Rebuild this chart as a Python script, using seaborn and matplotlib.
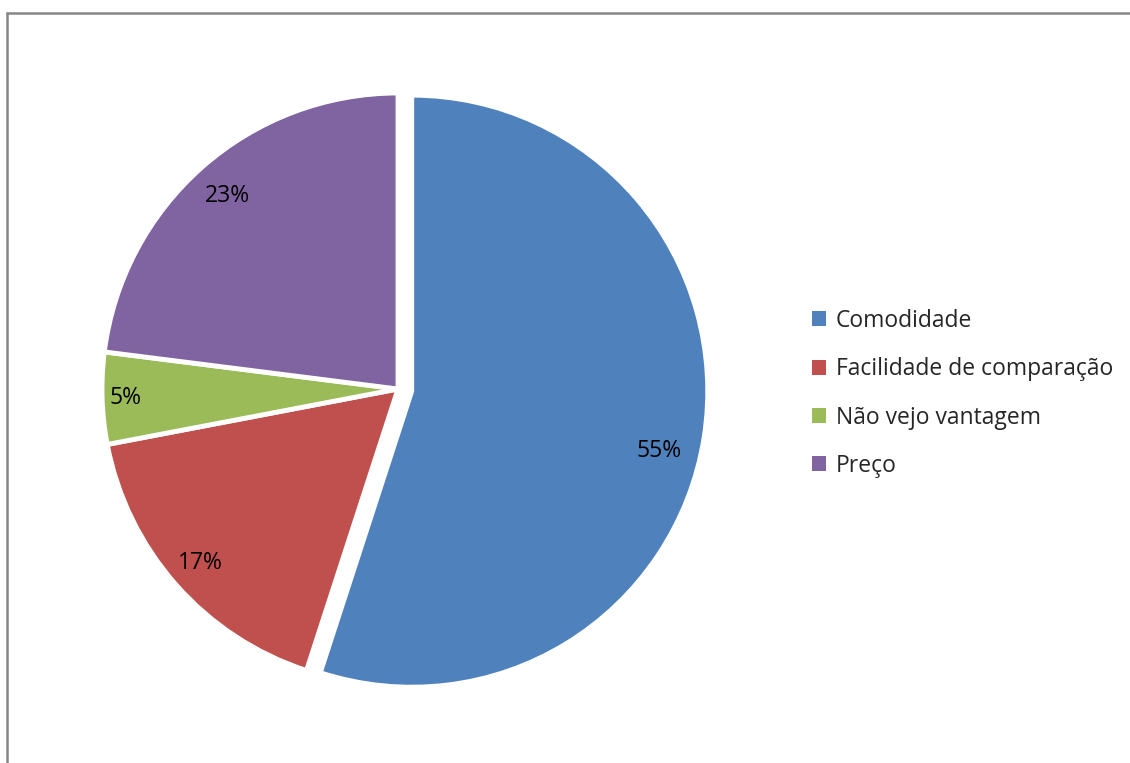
import matplotlib
matplotlib.use("Agg")
import numpy as np
import matplotlib.pyplot as plt
from matplotlib.lines import Line2D
from matplotlib.patches import Patch
import seaborn as sns

# Motivos para usar a comparação de preços online
categories = ["Comodidade", "Facilidade de comparação", "Não vejo vantagem", "Preço"]
shares = [55, 17, 5, 23]
slice_colors = ["#4F81BD", "#C0504D", "#9BBB59", "#8064A2"]

sns.set_theme(style="white")
plt.rcParams["font.family"] = ["Open Sans", "DejaVu Sans"]

W, H = 1130, 763
fig = plt.figure(figsize=(W / 100, H / 100), dpi=100)

# Square axes around the pie centre, radius in pixels
cx, cy, r_px, half = 398, 389, 296, 350
ax = fig.add_axes([(cx - half) / W, (H - cy - half) / H, 2 * half / W, 2 * half / H])
lim = half / r_px

palette = sns.color_palette(slice_colors)
explode = [0.047, 0, 0, 0]
wedges, texts, autotexts = ax.pie(
    shares,
    colors=palette,
    startangle=90,
    counterclock=False,
    explode=explode,
    autopct=lambda p: f"{p:.0f}%",
    pctdistance=0.87,
    wedgeprops=dict(edgecolor="white", linewidth=3.5),
    textprops=dict(fontsize=16.5, color="black"),
    radius=1.0,
)
ax.set_xlim(-lim, lim)
ax.set_ylim(-lim, lim)
ax.set_aspect("equal")
ax.axis("off")

# Percentage labels sit near the outer edge of each slice
label_dist = [0.86, 0.89, 0.92, 0.87]
label_turn = [-4.5, 0.0, 0.0, 0.0]
for w, t, d, a in zip(wedges, autotexts, label_dist, label_turn):
    mid = np.deg2rad((w.theta1 + w.theta2) / 2 + a)
    x0, y0 = w.center
    t.set_position((x0 + d * np.cos(mid), y0 + d * np.sin(mid)))

# Legend keys: plain colour squares without the white slice outline
handles = [Patch(facecolor=c, edgecolor="none") for c in palette]
fig.legend(
    handles,
    categories,
    loc="upper left",
    bbox_to_anchor=(812 / W, 1 - 309 / H),
    frameon=False,
    fontsize=16.5,
    handlelength=0.63,
    handleheight=0.63,
    handletextpad=0.4,
    labelspacing=1.06,
    borderaxespad=0,
    borderpad=0,
)

# Partial chart frame along the top and left edges
frame_kw = dict(color="#868686", linewidth=1.8, transform=fig.transFigure)
fig.add_artist(Line2D([7 / W, 1.0], [1 - 13 / H, 1 - 13 / H], **frame_kw))
fig.add_artist(Line2D([7 / W, 7 / W], [1 - 13 / H, 0.0], **frame_kw))

fig.savefig("out.png", dpi=100, facecolor="white")
